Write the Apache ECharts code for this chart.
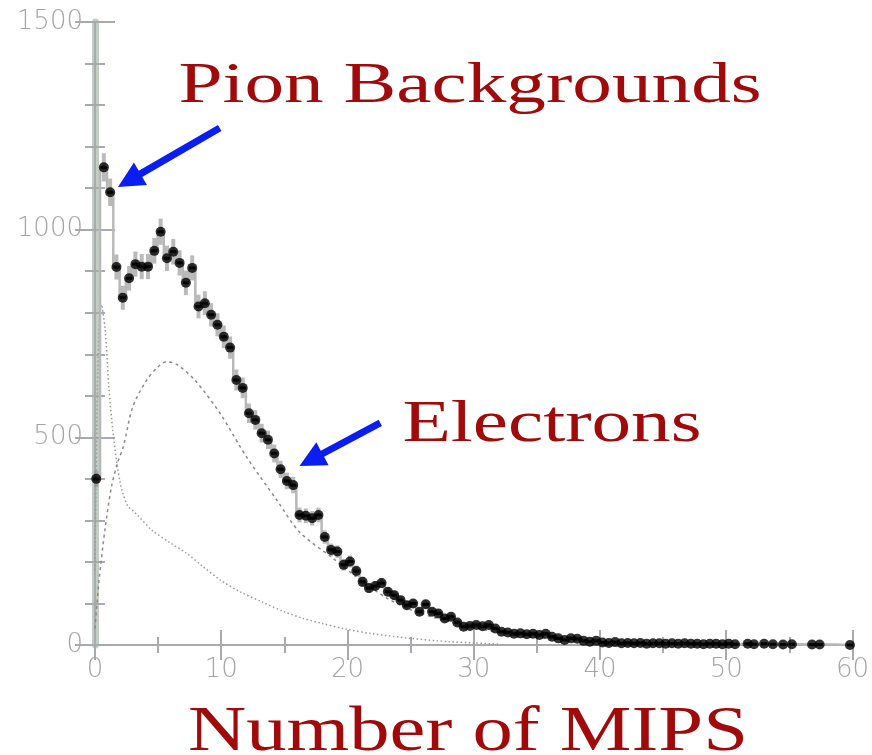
<!DOCTYPE html>
<html><head><meta charset="utf-8">
<script src="https://cdn.jsdelivr.net/npm/echarts@6/dist/echarts.min.js"></script>
<style>html,body{margin:0;padding:0;background:#fff}#c{width:872px;height:755px}</style>
</head><body><div id="c"></div><script>
// measured histogram (bin centre, counts)
const binCenters = [0.1,0.7,1.2,1.7,2.2,2.7,3.2,3.7,4.2,4.7,5.2,5.7,6.2,6.7,7.2,7.7,8.2,8.7,9.2,9.7,
 10.2,10.7,11.2,11.7,12.2,12.7,13.2,13.7,14.2,14.7,15.2,15.7,16.2,16.7,17.2,17.7,18.2,18.7,19.2,19.7,
 20.2,20.7,21.2,21.7,22.2,22.7,23.2,23.7,24.2,24.7,25.2,25.7,26.2,26.7,27.2,27.7,28.2,28.7,29.2,29.7,
 30.2,30.7,31.2,31.7,32.2,32.7,33.2,33.7,34.2,34.7,35.2,35.7,36.2,36.7,37.2,37.7,38.2,38.7,39.2,39.7,
 40.2,40.7,41.2,41.7,42.2,42.7,43.2,43.7,44.2,44.7,45.2,45.7,46.2,46.7,47.2,47.7,48.2,48.7,49.2,49.7,
 50.2,50.7,51.7,52.2,53.0,53.7,54.5,55.2,56.8,57.4,59.8];
const counts = [400,1150,1090,910,836,883,917,911,911,949,995,931,947,920,872,908,815,823,795,771,
 742,716,638,619,558,542,510,494,461,423,395,385,313,311,305,313,260,229,225,193,
 201,178,152,137,142,149,128,120,108,96,100,80,98,80,76,64,68,54,44,46,
 48,45,48,40,32,30,27,28,26,27,24,27,20,16,12,16,15,10,8,10,
 6,5,7,4,5,4,5,3,4,4,3,4,3,4,3,3,2,3,3,2,
 3,2,3,2,3,2,1,2,1,1,0];
// pion background fit (dotted)
const pionX = [0,0.25,0.5,0.8,1.1,1.4,1.7,2.0,2.2,2.6,3.2,4.5,6,7.25,8.5,9.9,11.5,13.2,15,16.5,18,19.9,22,25,28,30,32];
const pionY = [180,700,820,760,620,520,445,390,366,335,318,277,245,221,190,157,128,104,80,64,52,38,27,16,8,5,2];
// electron fit (dashed)
const elecX = [0,0.3,0.8,1.3,1.8,2.24,3.0,4.1,5.0,5.67,6.5,7.9,9.9,12.0,14.4,16.2,18.8,20.7,23,25,27,30,33,36,40,45,50];
const elecY = [40,150,280,380,440,477,574,638,670,682,675,638,558,453,349,272,210,164,115,85,65,42,25,15,7,3,1];
// axis ticks
const xTicks = [0,10,20,30,40,50,60];
const yTicks = [0,500,1000,1500];

const zip = (a,b)=>a.map((v,i)=>[v,b[i]]);
const chart = echarts.init(document.getElementById('c'));
const grid = {left:95,right:18,top:22,bottom:110};
const labelStyle = {color:'#a6a6a6',fontFamily:'DejaVu Sans',fontSize:26,fontWeight:300};
const lineGray = '#a9a9b0';
chart.setOption({
  animation:false,
  backgroundColor:'#fff',
  grid,
  xAxis:[{
    type:'value',min:0,max:60,interval:10,
    axisLine:{lineStyle:{color:lineGray,width:2}},
    axisTick:{inside:true,length:15,lineStyle:{color:lineGray,width:2}},
    minorTick:{show:true,splitNumber:2,length:8,lineStyle:{color:lineGray,width:2}},
    splitLine:{show:false},
    axisLabel:Object.assign({margin:12,formatter:v=>xTicks.includes(v)?String(v):''},labelStyle)
  },{
    type:'value',min:0,max:60,interval:10,position:'top',
    axisLine:{lineStyle:{color:lineGray,width:2}},
    axisTick:{inside:true,length:15,lineStyle:{color:lineGray,width:2}},
    minorTick:{show:true,splitNumber:2,length:8,lineStyle:{color:lineGray,width:2}},
    splitLine:{show:false},axisLabel:{show:false}
  }],
  yAxis:[{
    type:'value',min:0,max:1500,interval:500,
    axisLine:{lineStyle:{color:'#c2cec2',width:7}},
    axisTick:{inside:true,length:20,lineStyle:{color:lineGray,width:2}},
    minorTick:{show:true,splitNumber:5,length:10,lineStyle:{color:lineGray,width:2}},
    splitLine:{show:false},
    axisLabel:Object.assign({margin:12,formatter:v=>yTicks.includes(v)?String(v):''},labelStyle)
  },{
    type:'value',min:0,max:1500,interval:500,position:'right',
    axisLine:{lineStyle:{color:lineGray,width:2}},
    axisTick:{inside:true,length:20,lineStyle:{color:lineGray,width:2}},
    minorTick:{show:true,splitNumber:5,length:10,lineStyle:{color:lineGray,width:2}},
    splitLine:{show:false},axisLabel:{show:false}
  }],
  series:[
    {type:'line',data:zip(pionX,pionY),smooth:0.3,symbol:'none',z:2,
     lineStyle:{color:'#9a9a9a',width:1.5,type:[1.5,2.5]}},
    {type:'line',data:zip(elecX,elecY),smooth:0.3,symbol:'none',z:2,
     lineStyle:{color:'#8a8a8a',width:1.5,type:[3,3.5]}},
    {type:'line',data:zip(binCenters,counts),step:'middle',symbol:'none',z:3,
     lineStyle:{color:'#b8b8b8',width:2.5}},
    {type:'custom',data:zip(binCenters,counts),z:4,
     renderItem:(params,api)=>{
       const x=api.value(0), y=api.value(1), e=Math.sqrt(y);
       const top=api.coord([x,y+e]), bot=api.coord([x,y-e]);
       const l=api.coord([x-0.25,y]), r=api.coord([x+0.25,y]);
       return {type:'group',children:[
         {type:'line',shape:{x1:top[0],y1:top[1],x2:bot[0],y2:bot[1]},style:{stroke:'rgba(140,140,140,0.6)',lineWidth:4}},
         {type:'line',shape:{x1:l[0],y1:l[1],x2:r[0],y2:r[1]},style:{stroke:'#111',lineWidth:3}}
       ]};
     }},
    {type:'scatter',data:zip(binCenters,counts),symbol:'circle',symbolSize:10,z:5,
     itemStyle:{color:'#000'}}
  ]
});

// annotations
function arrow(tail,tip){
  const T=chart.convertToPixel({gridIndex:0},tip), S=chart.convertToPixel({gridIndex:0},tail);
  let dx=S[0]-T[0], dy=S[1]-T[1]; const len=Math.hypot(dx,dy); dx/=len; dy/=len;
  const nx=-dy, ny=dx, L=26, H=13, W=3.5;
  const B=[T[0]+L*dx,T[1]+L*dy];
  return {type:'polygon',z:100,shape:{points:[
    T,[B[0]+H*nx,B[1]+H*ny],[B[0]+W*nx,B[1]+W*ny],[S[0]+W*nx,S[1]+W*ny],
    [S[0]-W*nx,S[1]-W*ny],[B[0]-W*nx,B[1]-W*ny],[B[0]-H*nx,B[1]-H*ny]]},
    style:{fill:'#0a1ef2'}};
}
const red='#a00a0a', serif='"Liberation Serif","Times New Roman",serif';
chart.setOption({graphic:[
  {type:'text',x:470,y:87,scaleX:1.39,z:100,style:{text:'Pion Backgrounds',font:'57px '+serif,fill:red,align:'center',verticalAlign:'middle'}},
  {type:'text',x:552,y:425,scaleX:1.32,z:100,style:{text:'Electrons',font:'60px '+serif,fill:red,align:'center',verticalAlign:'middle'}},
  {type:'text',x:468,y:733,scaleX:1.28,z:100,style:{text:'Number of MIPS',font:'63px '+serif,fill:red,align:'center',verticalAlign:'middle'}},
  arrow([9.88,1245],[1.82,1103]),
  arrow([22.6,535],[16.2,431])
]});
</script></body></html>
